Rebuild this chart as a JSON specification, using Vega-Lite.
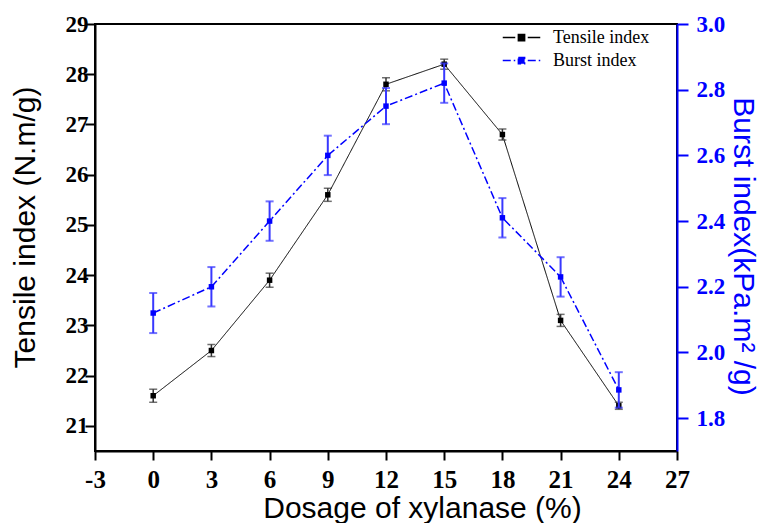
{
  "$schema": "https://vega.github.io/schema/vega-lite/v6.json",
  "width": 582,
  "height": 427,
  "autosize": "none",
  "padding": {"left": 95, "top": 24, "right": 95, "bottom": 72},
  "background": "white",
  "config": {
    "view": {"stroke": "black", "strokeWidth": 2},
    "axis": {
      "grid": false,
      "domainColor": "black",
      "domainWidth": 2,
      "tickColor": "black",
      "tickWidth": 2,
      "labelFont": "Liberation Serif",
      "labelFontWeight": "bold",
      "labelFontSize": 23,
      "labelColor": "black",
      "titleFont": "Liberation Sans",
      "titleFontWeight": "normal",
      "titleFontSize": 30,
      "titleColor": "black",
      "labelFlush": false,
      "labelOverlap": false,
      "labelBound": false
    }
  },
  "datasets": {
    "tensile": [
      {"dosage": 0, "value": 21.6, "err": 0.13, "series": "Tensile index"},
      {"dosage": 3, "value": 22.5, "err": 0.12, "series": "Tensile index"},
      {"dosage": 6, "value": 23.9, "err": 0.14, "series": "Tensile index"},
      {"dosage": 9, "value": 25.6, "err": 0.13, "series": "Tensile index"},
      {"dosage": 12, "value": 27.8, "err": 0.13, "series": "Tensile index"},
      {"dosage": 15, "value": 28.2, "err": 0.1, "series": "Tensile index"},
      {"dosage": 18, "value": 26.8, "err": 0.11, "series": "Tensile index"},
      {"dosage": 21, "value": 23.1, "err": 0.12, "series": "Tensile index"},
      {"dosage": 24, "value": 21.4, "err": 0.07, "series": "Tensile index"}
    ],
    "burst": [
      {"dosage": 0, "value": 2.12, "err": 0.061, "series": "Burst index"},
      {"dosage": 3, "value": 2.2, "err": 0.06, "series": "Burst index"},
      {"dosage": 6, "value": 2.4, "err": 0.06, "series": "Burst index"},
      {"dosage": 9, "value": 2.6, "err": 0.06, "series": "Burst index"},
      {"dosage": 12, "value": 2.75, "err": 0.055, "series": "Burst index"},
      {"dosage": 15, "value": 2.82, "err": 0.06, "series": "Burst index"},
      {"dosage": 18, "value": 2.41, "err": 0.06, "series": "Burst index"},
      {"dosage": 21, "value": 2.23, "err": 0.06, "series": "Burst index"},
      {"dosage": 24, "value": 1.886, "err": 0.054, "series": "Burst index"}
    ]
  },
  "layer": [
    {
      "data": {"name": "tensile"},
      "layer": [
        {
          "mark": {"type": "line", "strokeWidth": 1},
          "encoding": {
            "x": {
              "field": "dosage", "type": "quantitative",
              "title": "Dosage of xylanase (%)",
              "scale": {"domain": [-3, 27], "nice": false, "zero": false},
              "axis": {
                "values": [-3, -1.5, 0, 1.5, 3, 4.5, 6, 7.5, 9, 10.5, 12, 13.5, 15, 16.5, 18, 19.5, 21, 22.5, 24, 25.5, 27],
                "labelExpr": "datum.value % 3 == 0 ? '' + datum.value : ''",
                "tickSize": {"condition": {"test": "datum.value % 3 != 0", "value": 5}, "value": 9},
                "labelPadding": 7,
                "labelFontSize": 25,
                "titleX": 327,
                "titlePadding": 1
              }
            },
            "y": {
              "field": "value", "type": "quantitative",
              "title": "Tensile index (N.m/g)",
              "scale": {"domain": [20.5, 29], "nice": false, "zero": false},
              "axis": {
                "values": [21, 21.5, 22, 22.5, 23, 23.5, 24, 24.5, 25, 25.5, 26, 26.5, 27, 27.5, 28, 28.5, 29],
                "labelExpr": "datum.value % 1 == 0 ? '' + datum.value : ''",
                "tickSize": {"condition": {"test": "datum.value % 1 != 0", "value": 5}, "value": 10},
                "labelPadding": -3,
                "titlePadding": 25,
                "titleY": 203
              }
            },
            "color": {
              "field": "series", "type": "nominal",
              "scale": {"domain": ["Tensile index", "Burst index"], "range": ["black", "blue"]},
              "legend": {
                "orient": "none", "legendX": 413, "legendY": 0, "title": null, "padding": 0, "rowPadding": 0,
                "symbolType": "M-1.5,0H-0.5M0.5,0H1.5M-0.25,-0.25H0.25V0.25H-0.25Z",
                "symbolSize": 625, "symbolStrokeWidth": 1.5, "labelOffset": 18,
                "labelFont": "Liberation Serif", "labelFontSize": 18, "labelColor": "black"
              }
            },
            "strokeDash": {
              "field": "series", "type": "nominal",
              "scale": {"domain": ["Tensile index", "Burst index"], "range": [[1, 0], [8, 3, 2, 3]]},
              "legend": {
                "orient": "none", "legendX": 413, "legendY": 0, "title": null, "padding": 0, "rowPadding": 0,
                "symbolType": "M-1.5,0H-0.5M0.5,0H1.5M-0.25,-0.25H0.25V0.25H-0.25Z",
                "symbolSize": 625, "symbolStrokeWidth": 1.5, "labelOffset": 18,
                "labelFont": "Liberation Serif", "labelFontSize": 18, "labelColor": "black"
              }
            }
          }
        },
        {
          "mark": {"type": "errorbar", "ticks": {"size": 8, "thickness": 1.5}, "thickness": 1.5, "color": "#333333"},
          "encoding": {
            "x": {"field": "dosage", "type": "quantitative", "title": "Dosage of xylanase (%)"},
            "y": {"field": "value", "type": "quantitative", "title": "Tensile index (N.m/g)"},
            "yError": {"field": "err"}
          }
        },
        {
          "mark": {"type": "point", "shape": "square", "filled": true, "size": 30, "opacity": 1},
          "encoding": {
            "x": {"field": "dosage", "type": "quantitative", "title": "Dosage of xylanase (%)"},
            "y": {"field": "value", "type": "quantitative", "title": "Tensile index (N.m/g)"},
            "fill": {
              "field": "series", "type": "nominal",
              "scale": {"domain": ["Tensile index", "Burst index"], "range": ["black", "blue"]},
              "legend": {
                "orient": "none", "legendX": 413, "legendY": 0, "title": null, "padding": 0, "rowPadding": 0,
                "symbolType": "M-1.5,0H-0.5M0.5,0H1.5M-0.25,-0.25H0.25V0.25H-0.25Z",
                "symbolSize": 625, "symbolStrokeWidth": 1.5, "labelOffset": 18,
                "labelFont": "Liberation Serif", "labelFontSize": 18, "labelColor": "black"
              }
            }
          }
        }
      ]
    },
    {
      "data": {"name": "burst"},
      "layer": [
        {
          "mark": {"type": "line", "strokeWidth": 1.5},
          "encoding": {
            "x": {"field": "dosage", "type": "quantitative", "title": "Dosage of xylanase (%)"},
            "y": {
              "field": "value", "type": "quantitative",
              "title": "Burst index(kPa.m² /g)",
              "scale": {"domain": [1.7, 3.0], "nice": false, "zero": false},
              "axis": {
                "orient": "right",
                "values": [1.8, 1.9, 2.0, 2.1, 2.2, 2.3, 2.4, 2.5, 2.6, 2.7, 2.8, 2.9, 3.0],
                "labelExpr": "round(datum.value * 10) % 2 == 0 ? format(datum.value, '.1f') : ''",
                "tickSize": {"condition": {"test": "round(datum.value * 10) % 2 != 0", "value": 6}, "value": 11},
                "labelPadding": 8,
                "titlePadding": 3,
                "titleY": 222,
                "domainColor": "blue",
                "tickColor": "blue",
                "labelColor": "blue",
                "titleColor": "blue"
              }
            },
            "color": {"field": "series", "type": "nominal"},
            "strokeDash": {"field": "series", "type": "nominal"}
          }
        },
        {
          "mark": {"type": "errorbar", "ticks": {"size": 8, "thickness": 2}, "thickness": 2, "color": "#3838ff"},
          "encoding": {
            "x": {"field": "dosage", "type": "quantitative", "title": "Dosage of xylanase (%)"},
            "y": {"field": "value", "type": "quantitative", "title": "Burst index(kPa.m² /g)"},
            "yError": {"field": "err"}
          }
        },
        {
          "mark": {"type": "point", "shape": "square", "filled": true, "size": 30, "opacity": 1},
          "encoding": {
            "x": {"field": "dosage", "type": "quantitative", "title": "Dosage of xylanase (%)"},
            "y": {"field": "value", "type": "quantitative", "title": "Burst index(kPa.m² /g)"},
            "fill": {"field": "series", "type": "nominal"}
          }
        }
      ]
    }
  ],
  "resolve": {"scale": {"y": "independent"}}
}
